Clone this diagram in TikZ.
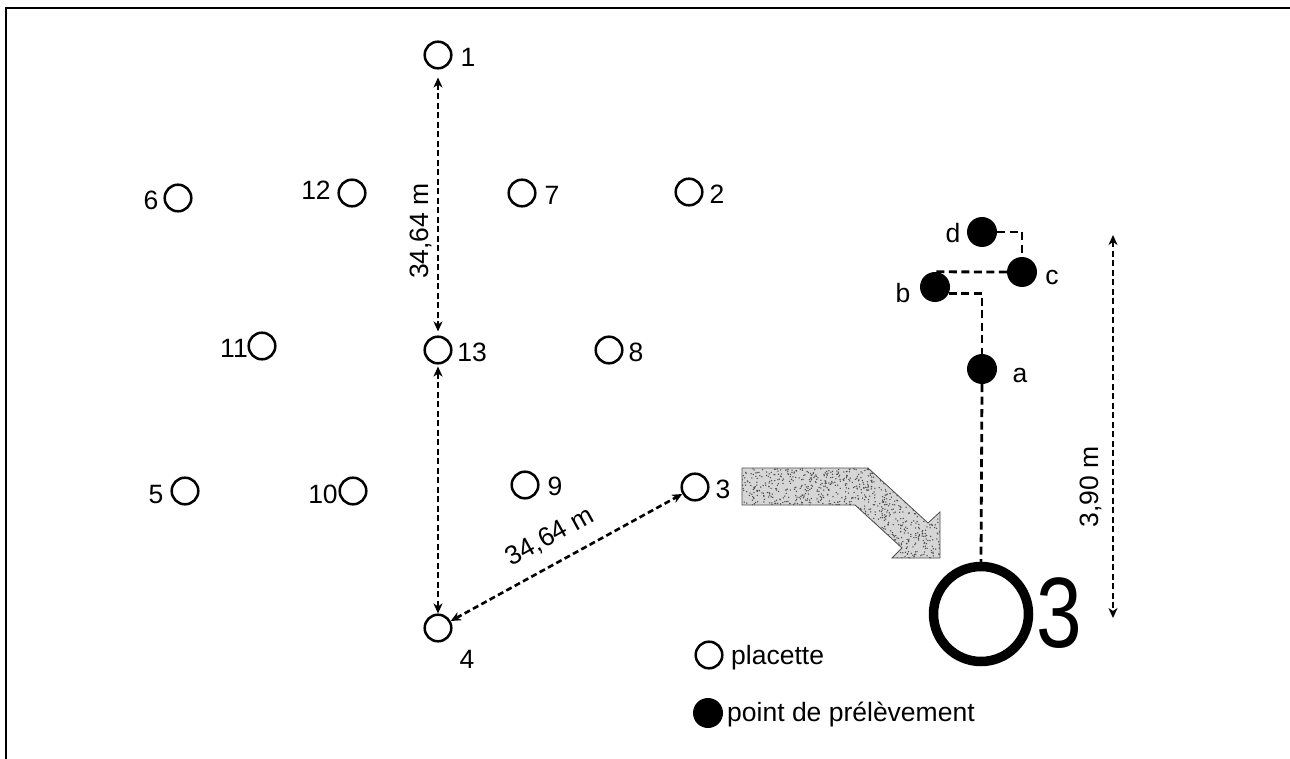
\documentclass[tikz,border=0pt]{standalone}
\usepackage{fontspec}
\setmainfont{Liberation Sans}
\usetikzlibrary{arrows.meta}

\begin{document}
\begin{tikzpicture}[x=1pt,y=-1pt,
  plot/.style={circle,draw,line width=2.5pt,minimum size=26.6pt,inner sep=0pt},
  sample/.style={circle,fill=black,minimum size=30pt,inner sep=0pt},
  lbl/.style={anchor=base,inner sep=0pt,font=\fontsize{26.5}{30}\selectfont},
  dimtext/.style={inner sep=0pt,font=\fontsize{26.5}{30}\selectfont},
  dimline/.style={line width=2.6pt,dash pattern=on 6pt off 3.5pt,{Stealth[length=10pt,width=9pt,inset=3pt]}-{Stealth[length=10pt,width=9pt,inset=3pt]}},
  link/.style={line width=2.8pt,dash pattern=on 8pt off 4.5pt}]

\useasboundingbox (0,0) rectangle (1290,759);

% frame
\draw[line width=2pt] (6,759) -- (6,8) -- (1290,8);

% plots
\node[plot] (c1)  at (438,55)  {};
\node[plot] (c6)  at (178,198) {};
\node[plot] (c12) at (352,193) {};
\node[plot] (c7)  at (522,193) {};
\node[plot] (c2)  at (689,192) {};
\node[plot] (c11) at (262,346) {};
\node[plot] (c13) at (438,350) {};
\node[plot] (c8)  at (609,350) {};
\node[plot] (c5)  at (185,491) {};
\node[plot] (c10) at (353,491) {};
\node[plot] (c9)  at (525,485) {};
\node[plot] (c3)  at (695,487) {};
\node[plot] (c4)  at (438,628) {};

% plot numbers
\node[lbl] (n1)  at (468,67)  {1};
\node[lbl] (n6)  at (151,210) {6};
\node[lbl] (n12) at (316,200) {12};
\node[lbl] (n7)  at (552,205) {7};
\node[lbl] (n2)  at (717,204) {2};
\node[lbl] (n11) at (234,357) {11};
\node[lbl] (n13) at (472,361) {13};
\node[lbl] (n8)  at (636,361) {8};
\node[lbl] (n5)  at (156,503) {5};
\node[lbl] (n10) at (323,503) {10};
\node[lbl] (n9)  at (555,495) {9};
\node[lbl] (n3)  at (723,498) {3};
\node[lbl] (n4)  at (467,668) {4};

% distances between plots
\draw[dimline,shorten <=8pt,shorten >=4pt] (c1) -- (c13);
\draw[dimline,shorten <=2pt] (c13) -- (c4);
\draw[dimline] (c4) -- (c3);
\node[dimtext,rotate=90] (d1) at (421,231) {34,64 m};
\node[dimtext,rotate=29] (d2) at (550,537) {34,64 m};

% enlargement arrow
\def\bigarrow{(742,468) -- (868,468) -- (928,523) -- (940,512) -- (940,558) -- (892,558) -- (902,548) -- (855,505) -- (742,505) -- cycle}
\fill[gray!32] \bigarrow;
\begin{scope}
  \clip \bigarrow;
  \pgfmathsetseed{7}
  \foreach \i in {1,...,1500}{
    \pgfmathsetmacro\px{742+198*rnd}
    \pgfmathsetmacro\py{468+90*rnd}
    \fill[black!70] (\px,\py) circle[radius=0.75];
  }
\end{scope}
\draw[gray!60!black,line width=0.8pt] \bigarrow;

% enlarged plot 3
\node[circle,draw,line width=9.5pt,minimum size=95pt,inner sep=0pt] (big) at (981,614) {};
\node[anchor=base west,inner sep=0pt,xscale=0.82,font=\fontsize{100}{110}\selectfont] (bign) at (1036,647) {3};

% sampling points
\node[sample] (pd) at (982,232) {};
\node[sample] (pc) at (1022,272) {};
\node[sample] (pb) at (935,287) {};
\node[sample] (pa) at (982,369) {};
\node[lbl] (ld) at (953,243) {d};
\node[lbl] (lc) at (1052,285) {c};
\node[lbl] (lb) at (903,302) {b};
\node[lbl] (la) at (1020,382) {a};

\draw[link] (pd.east) -| (pc.north);
\draw[link] (pc.west) -- (pb.north);
\draw[link] (pb.-25) -| (pa.north);
\draw[link] (pa.south) -- (big.north);

% 3,90 m dimension
\coordinate (t390) at (1113,235);
\coordinate (b390) at (1113,618);
\draw[dimline] (t390) -- (b390);
\node[dimtext,rotate=90] (d3) at (1091,487) {3,90 m};

% legend
\node[plot] (k1) at (709,655) {};
\node[lbl,anchor=base west] (k1t) at (731,664) {placette};
\node[sample] (k2) at (708,713) {};
\node[lbl,anchor=base west] (k2t) at (727,721) {point de prélèvement};
\end{tikzpicture}
\end{document}
